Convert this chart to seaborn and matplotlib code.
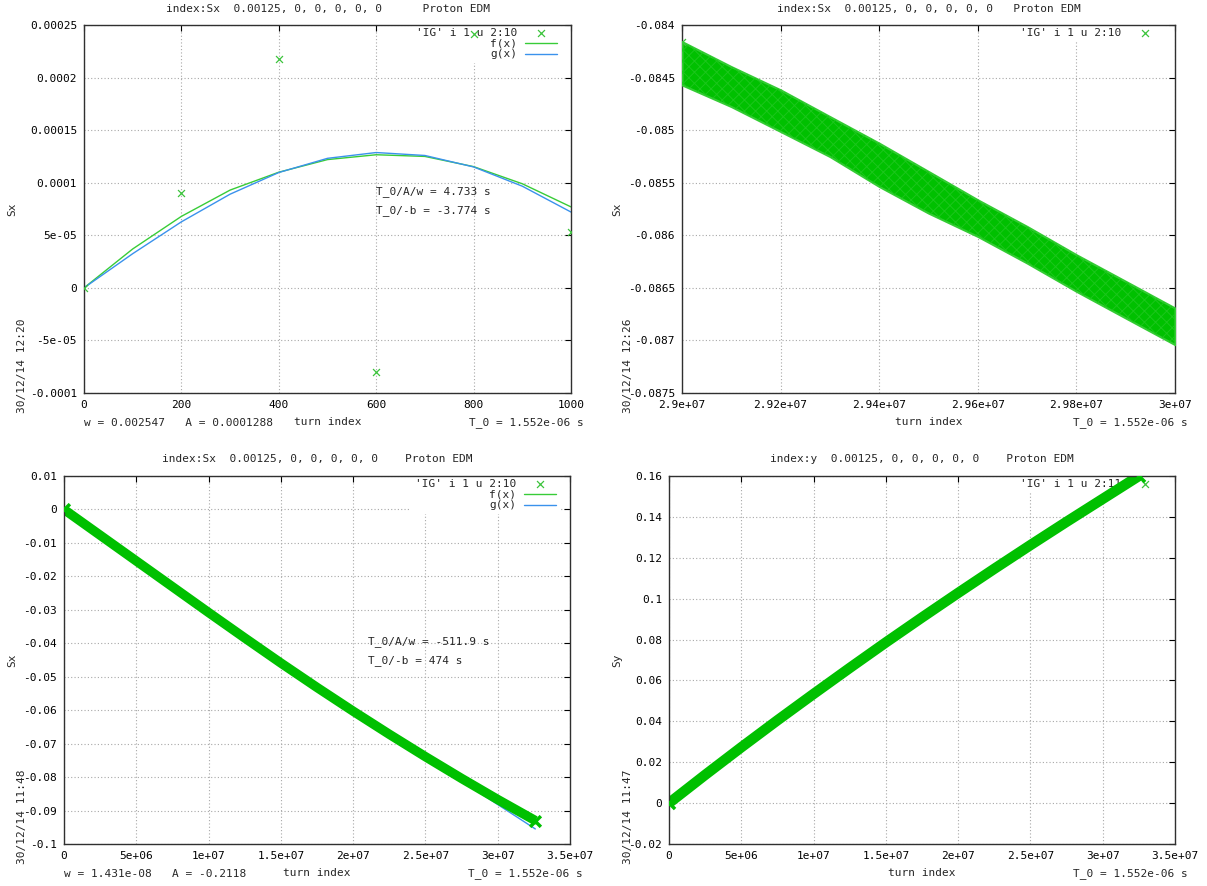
import numpy as np
import pandas as pd
import matplotlib
matplotlib.use('Agg')
import matplotlib.pyplot as plt
import seaborn as sns
from matplotlib.ticker import FuncFormatter

# ---- values ----
# top left: Sx for the first 1000 turns + the two fits
tl_turn = [0, 200, 400, 600, 800, 1000]
tl_sx = [0.0, 9.0e-05, 2.18e-04, -8.0e-05, 2.41e-04, 5.3e-05]
tl_fit_turn = [0, 100, 200, 300, 400, 500, 600, 700, 800, 900, 1000]
tl_f = [0.0, 3.7e-05, 6.8e-05, 9.3e-05, 1.10e-04, 1.22e-04, 1.266e-04, 1.25e-04, 1.153e-04, 9.9e-05, 7.7e-05]
tl_g = [0.0, 3.25e-05, 6.28e-05, 8.91e-05, 1.097e-04, 1.232e-04, 1.287e-04, 1.259e-04, 1.150e-04, 9.67e-05, 7.21e-05]

# top right: the dense Sx band between 2.9e7 and 3e7 turns (upper / lower edge)
tr_turn = [2.90e7, 2.91e7, 2.92e7, 2.93e7, 2.94e7, 2.95e7, 2.96e7, 2.97e7, 2.98e7, 2.99e7, 3.00e7]
tr_upper = [-0.084158, -0.084396, -0.084617, -0.084871, -0.085124, -0.085393,
            -0.085663, -0.085916, -0.086185, -0.086438, -0.086692]
tr_lower = [-0.084570, -0.084776, -0.085013, -0.085251, -0.085536, -0.085789,
            -0.086011, -0.086264, -0.086533, -0.086787, -0.087040]

# bottom left: Sx over the full run + fits
bl_turn = [0, 2.5e6, 5e6, 7.5e6, 1e7, 1.25e7, 1.5e7, 1.75e7, 2e7, 2.25e7, 2.5e7, 2.75e7, 3e7, 3.26e7]
bl_sx = [0.0, -0.0077, -0.0154, -0.0231, -0.0308, -0.0384, -0.0459, -0.0532, -0.0603, -0.0672,
         -0.0739, -0.0804, -0.0867, -0.0930]
bl_f = [0.0, -0.0074, -0.0149, -0.0224, -0.0300, -0.0376, -0.0451, -0.0525, -0.0598, -0.0669,
        -0.0739, -0.0806, -0.0872, -0.0940]
bl_g = [0.0, -0.0076, -0.0151, -0.0227, -0.0302, -0.0377, -0.0451, -0.0525, -0.0598, -0.0670,
        -0.0742, -0.0812, -0.0882, -0.0955]

# bottom right: Sy over the full run
br_turn = [0, 2.5e6, 5e6, 7.5e6, 1e7, 1.25e7, 1.5e7, 1.75e7, 2e7, 2.25e7, 2.5e7, 2.75e7, 3e7, 3.25e7]
br_sy = [0.0, 0.0138, 0.0273, 0.0405, 0.0534, 0.0661, 0.0786, 0.0908, 0.1028, 0.1146,
         0.1262, 0.1376, 0.1488, 0.1600]

# ticks
tl_xticks = [0, 200, 400, 600, 800, 1000]
tl_yticks = [-0.0001, -5e-05, 0, 5e-05, 0.0001, 0.00015, 0.0002, 0.00025]
tr_xticks = [2.9e7, 2.92e7, 2.94e7, 2.96e7, 2.98e7, 3e7]
tr_yticks = [-0.0875, -0.087, -0.0865, -0.086, -0.0855, -0.085, -0.0845, -0.084]
b_xticks = [0, 5e6, 1e7, 1.5e7, 2e7, 2.5e7, 3e7, 3.5e7]
bl_yticks = [-0.1, -0.09, -0.08, -0.07, -0.06, -0.05, -0.04, -0.03, -0.02, -0.01, 0, 0.01]
br_yticks = [-0.02, 0, 0.02, 0.04, 0.06, 0.08, 0.1, 0.12, 0.14, 0.16]

lbl_data = "'IG' i 1 u 2:10"
lbl_data_y = "'IG' i 1 u 2:11"

sns.set_style('white')
plt.rcParams['font.family'] = ['DejaVu Sans Mono', 'DejaVu Sans']
plt.rcParams['font.size'] = 8
plt.rcParams['hatch.linewidth'] = 0.7

W, H = 1207, 886
fig = plt.figure(figsize=(W / 100, H / 100), dpi=100)

GREEN = '#00c000'
MARK = '#3cc43c'
FCOL = '#38cc38'
GCOL = '#3a92ec'


def add_ax(l, t, r, b):
    return fig.add_axes([l / W, 1 - b / H, (r - l) / W, (b - t) / H])


def gp_fmt(v, pos):
    return '%g' % v


def style(ax, xticks, yticks, xlim, ylim):
    ax.set_xlim(*xlim)
    ax.set_ylim(*ylim)
    ax.set_xticks(xticks)
    ax.set_yticks(yticks)
    ax.xaxis.set_major_formatter(FuncFormatter(gp_fmt))
    ax.yaxis.set_major_formatter(FuncFormatter(gp_fmt))
    ax.grid(True, color='#a8a8a8', linestyle=(0, (1, 2)), linewidth=0.8)
    ax.set_axisbelow(True)
    ax.tick_params(direction='in', length=4, width=0.8, top=True, right=True,
                   pad=5, labelsize=8, colors='black')
    for sp in ax.spines.values():
        sp.set_color('#303030')
        sp.set_linewidth(1.0)
        sp.set_visible(True)
    ax.set_xlabel('')
    ax.set_ylabel('')


def texts(ax, box, title, ylab, stamp, left_txt, ylab_x, stamp_x, title_y, foot_y):
    l, t, r, b = box
    cx = (l + r) / 2
    fig.text(cx / W, 1 - title_y / H, title, ha='center', va='center', fontsize=8)
    ax.set_xlabel('turn index', fontsize=8)
    ax.xaxis.set_label_coords(0.5, -(foot_y - 1 - b) / (b - t))
    ax.xaxis.label.set_va('center')
    ax.set_ylabel(ylab, fontsize=8)
    ax.yaxis.set_label_coords((ylab_x - l) / (r - l), 0.5)
    ax.yaxis.label.set_va('center')
    fig.text(stamp_x / W, 1 - (b + 20) / H, stamp, rotation=90, ha='center', va='bottom', fontsize=8)
    if left_txt:
        fig.text(l / W, 1 - foot_y / H, left_txt, ha='left', va='center', fontsize=8)
    fig.text((r + 13) / W, 1 - foot_y / H, 'T_0 = 1.552e-06 s', ha='right', va='center', fontsize=8)


def gp_legend(ax, box, order, small_marker=False):
    l, t, r, b = box
    h, lb = ax.get_legend_handles_labels()
    hd = dict(zip(lb, h))
    leg = ax.legend([hd[k] for k in order], order, loc='upper right',
                    bbox_to_anchor=(1 - 10.7 / (r - l), 1.0), borderaxespad=0,
                    borderpad=0.3, markerfirst=False, scatterpoints=1,
                    handlelength=2.9, handletextpad=0.7, labelspacing=0.05,
                    frameon=True, facecolor='white', edgecolor='none', framealpha=1,
                    fancybox=False, fontsize=8)
    leg.set_zorder(1.5)
    if small_marker:
        hh = leg.legend_handles[0]
        hh.set_sizes([25])
        hh.set_linewidths([0.9])
        hh.set_color(MARK)
    return leg


# ---------------- top left ----------------
box_tl = (84, 25, 571, 393)
ax = add_ax(*box_tl)
sns.lineplot(x=tl_fit_turn, y=tl_f, ax=ax, color=FCOL, linewidth=1.0, label='f(x)', estimator=None, zorder=2)
sns.lineplot(x=tl_fit_turn, y=tl_g, ax=ax, color=GCOL, linewidth=1.0, label='g(x)', estimator=None, zorder=2)
sns.scatterplot(x=tl_turn, y=tl_sx, ax=ax, marker='x', color=MARK, s=25, linewidth=0.9,
                label=lbl_data, zorder=3)
style(ax, tl_xticks, tl_yticks, (0, 1000), (-0.0001, 0.00025))
texts(ax, box_tl, 'index:Sx  0.00125, 0, 0, 0, 0, 0      Proton EDM', 'Sx', '30/12/14 12:20',
      'w = 0.002547   A = 0.0001288', 12, 22, 9, 423)
ax.text(600, 9.2e-05, 'T_0/A/w = 4.733 s', ha='left', va='center', fontsize=8)
ax.text(600, 7.4e-05, 'T_0/-b = -3.774 s', ha='left', va='center', fontsize=8)
gp_legend(ax, box_tl, [lbl_data, 'f(x)', 'g(x)'])

# ---------------- top right ----------------
box_tr = (682, 25, 1175, 393)
ax = add_ax(*box_tr)
ax.fill_between(tr_turn, tr_lower, tr_upper, facecolor=GREEN, edgecolor='#34cc34',
                linewidth=1.5, zorder=3)
ax.fill_between(tr_turn, tr_lower, tr_upper, facecolor='none', edgecolor='#1cc61c',
                hatch='xxx', linewidth=0, zorder=3.1)
sns.scatterplot(x=tr_turn[:1], y=tr_upper[:1], ax=ax, marker='x', color=MARK, s=25,
                linewidth=0.9, label=lbl_data, zorder=3)
style(ax, tr_xticks, tr_yticks, (2.9e7, 3e7), (-0.0875, -0.084))
texts(ax, box_tr, 'index:Sx  0.00125, 0, 0, 0, 0, 0   Proton EDM', 'Sx', '30/12/14 12:26',
      None, 617, 628, 9, 423)
gp_legend(ax, box_tr, [lbl_data])

# ---------------- bottom left ----------------
box_bl = (64, 476, 570, 844)
ax = add_ax(*box_bl)
sns.lineplot(x=bl_turn, y=bl_f, ax=ax, color=FCOL, linewidth=1.0, label='f(x)', estimator=None, zorder=2)
sns.lineplot(x=bl_turn, y=bl_g, ax=ax, color=GCOL, linewidth=1.0, label='g(x)', estimator=None, zorder=2)
sns.lineplot(x=bl_turn, y=bl_sx, ax=ax, color=GREEN, linewidth=6.8, estimator=None,
             solid_capstyle='butt', zorder=2.5)
# only the end points show their 'x' outside the thick band
sns.scatterplot(x=bl_turn[::len(bl_turn) - 1], y=bl_sx[::len(bl_sx) - 1], ax=ax, marker='x',
                color=GREEN, s=60, linewidth=2.5, label=lbl_data, zorder=3)
style(ax, b_xticks, bl_yticks, (0, 3.5e7), (-0.1, 0.01))
texts(ax, box_bl, 'index:Sx  0.00125, 0, 0, 0, 0, 0    Proton EDM', 'Sx', '30/12/14 11:48',
      'w = 1.431e-08   A = -0.2118', 12, 22, 459, 874)
ax.text(2.1e7, -0.0396, 'T_0/A/w = -511.9 s', ha='left', va='center', fontsize=8)
ax.text(2.1e7, -0.0453, 'T_0/-b = 474 s', ha='left', va='center', fontsize=8)
gp_legend(ax, box_bl, [lbl_data, 'f(x)', 'g(x)'], small_marker=True)

# ---------------- bottom right ----------------
box_br = (669, 476, 1175, 844)
ax = add_ax(*box_br)
sns.lineplot(x=br_turn, y=br_sy, ax=ax, color=GREEN, linewidth=7.5, estimator=None,
             solid_capstyle='butt', zorder=2.5)
sns.scatterplot(x=br_turn[::len(br_turn) - 1], y=br_sy[::len(br_sy) - 1], ax=ax, marker='x',
                color=GREEN, s=64, linewidth=2.5, label=lbl_data_y, zorder=3)
style(ax, b_xticks, br_yticks, (0, 3.5e7), (-0.02, 0.16))
texts(ax, box_br, 'index:y  0.00125, 0, 0, 0, 0, 0    Proton EDM', 'Sy', '30/12/14 11:47',
      None, 617, 628, 459, 874)
gp_legend(ax, box_br, [lbl_data_y], small_marker=True)

fig.savefig('out.png', dpi=100, facecolor='white')
